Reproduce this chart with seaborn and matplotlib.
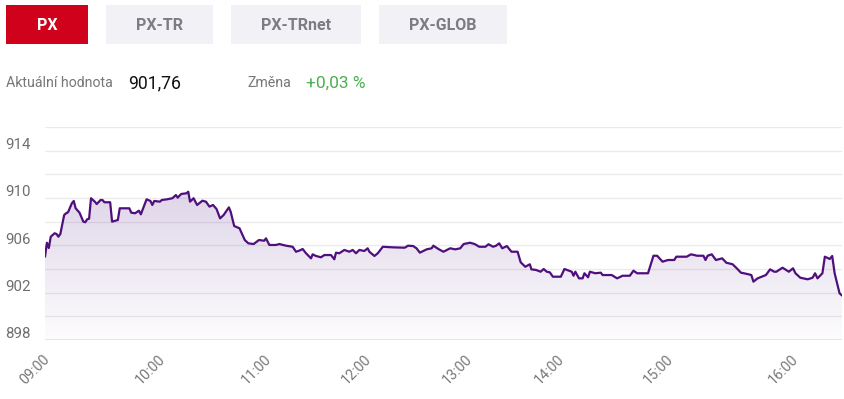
import numpy as np
import pandas as pd
import matplotlib
matplotlib.use("Agg")
import matplotlib.pyplot as plt
import seaborn as sns
from matplotlib.patches import Rectangle
from matplotlib.transforms import ScaledTranslation
from matplotlib.colors import to_rgb

# ---------------- data ----------------
tabs = ["PX", "PX-TR", "PX-TRnet", "PX-GLOB"]
current_label = "Aktuální hodnota"
current_value = "901,76"
change_label = "Změna"
change_value = "+0,03 %"

times = [
    "09:00", "09:01", "09:02", "09:03", "09:05", "09:06", "09:07", "09:08", "09:10", "09:11",
    "09:12", "09:14", "09:15", "09:16", "09:18", "09:20", "09:21", "09:22", "09:23", "09:24",
    "09:26", "09:27", "09:29", "09:30", "09:31", "09:34", "09:35", "09:38", "09:39", "09:44",
    "09:45", "09:47", "09:49", "09:50", "09:53", "09:55", "09:56", "09:57", "10:00", "10:01",
    "10:04", "10:07", "10:09", "10:10", "10:12", "10:15", "10:16", "10:17", "10:19", "10:21",
    "10:24", "10:26", "10:28", "10:30", "10:32", "10:34", "10:36", "10:39", "10:40", "10:42",
    "10:45", "10:48", "10:50", "10:53", "10:56", "10:59", "11:00", "11:02", "11:06", "11:08",
    "11:12", "11:16", "11:18", "11:20", "11:22", "11:24", "11:27", "11:28", "11:30", "11:33",
    "11:35", "11:39", "11:41", "11:42", "11:44", "11:47", "11:50", "11:52", "11:54", "11:56",
    "11:59", "12:01", "12:02", "12:05", "12:07", "12:10", "12:16", "12:23", "12:25", "12:28",
    "12:30", "12:32", "12:36", "12:39", "12:40", "12:43", "12:46", "12:50", "12:53", "12:56",
    "12:58", "13:02", "13:05", "13:08", "13:12", "13:14", "13:17", "13:19", "13:21", "13:23",
    "13:26", "13:29", "13:33", "13:35", "13:38", "13:41", "13:42", "13:45", "13:48", "13:50",
    "13:52", "13:54", "13:56", "14:01", "14:03", "14:07", "14:08", "14:09", "14:11", "14:13",
    "14:14", "14:16", "14:17", "14:20", "14:23", "14:24", "14:29", "14:32", "14:35", "14:39",
    "14:41", "14:43", "14:49", "14:52", "14:54", "14:57", "15:00", "15:03", "15:04", "15:09",
    "15:11", "15:14", "15:17", "15:18", "15:19", "15:21", "15:23", "15:26", "15:28", "15:31",
    "15:33", "15:35", "15:38", "15:40", "15:41", "15:43", "15:47", "15:49", "15:51", "15:52",
    "15:55", "15:58", "16:00", "16:01", "16:03", "16:06", "16:08", "16:09", "16:10", "16:12",
    "16:13", "16:15", "16:16", "16:17", "16:19", "16:20",
]
values = [
    905.04, 906.22, 905.77, 906.73, 907.02, 906.96, 906.73, 906.96, 908.56, 908.71,
    908.79, 909.55, 909.75, 909.13, 908.76, 908.00, 907.95, 908.20, 908.25, 909.98,
    909.69, 909.49, 909.83, 909.83, 909.64, 909.64, 908.00, 908.14, 909.13, 909.13,
    908.76, 908.71, 908.93, 908.62, 909.89, 909.75, 909.41, 909.75, 909.69, 909.83,
    909.89, 909.98, 910.25, 910.03, 910.34, 910.40, 910.53, 909.69, 909.98, 909.41,
    909.77, 909.69, 909.27, 909.41, 909.07, 908.28, 908.56, 909.21, 908.84, 907.63,
    907.44, 906.45, 906.17, 906.11, 906.45, 906.39, 906.59, 906.03, 906.03, 906.11,
    905.97, 905.88, 905.46, 905.55, 905.69, 905.33, 904.90, 905.24, 905.10, 904.99,
    905.18, 905.18, 904.82, 905.38, 905.33, 905.61, 905.46, 905.61, 905.33, 905.61,
    905.52, 905.75, 905.46, 905.10, 905.33, 905.88, 905.83, 905.80, 905.97, 905.94,
    905.75, 905.38, 905.66, 905.75, 905.97, 905.69, 905.46, 905.75, 905.66, 905.75,
    906.11, 906.22, 906.11, 905.88, 905.88, 906.09, 905.88, 905.97, 906.17, 905.75,
    905.94, 905.46, 905.46, 904.57, 904.19, 904.40, 903.97, 903.92, 903.77, 904.00,
    903.77, 903.72, 903.35, 903.35, 904.00, 903.77, 903.43, 903.77, 903.21, 903.21,
    903.64, 903.30, 903.77, 903.64, 903.69, 903.49, 903.49, 903.21, 903.43, 903.43,
    903.86, 903.64, 903.64, 905.12, 905.12, 904.62, 904.76, 904.76, 905.04, 905.04,
    905.24, 905.12, 905.12, 904.76, 905.12, 905.24, 904.76, 904.90, 904.53, 904.40,
    904.06, 903.69, 903.58, 903.49, 902.93, 903.21, 903.49, 903.97, 903.77, 903.77,
    904.11, 903.77, 904.06, 903.64, 903.26, 903.13, 903.26, 903.64, 903.21, 903.64,
    905.04, 904.85, 905.10, 903.64, 901.95, 901.76,
]
hour_labels = ["09:00", "10:00", "11:00", "12:00", "13:00", "14:00", "15:00", "16:00"]
y_ticks = [898, 902, 906, 910, 914]

# ---------------- helpers ----------------
def to_min(t):
    h, m = t.split(":")
    return (int(h) - 9) * 60 + int(m)

df = pd.DataFrame({"t": [to_min(t) for t in times], "v": values})

# ordinal-like axis (Highcharts stock style): hour knots -> axis positions
knot_min = np.array([0, 60, 120, 180, 240, 300, 360, 420, 440], dtype=float)
knot_pos = np.array([0, 115, 221, 321, 422, 514, 623, 748, 797], dtype=float)
fwd = lambda x: np.interp(np.asarray(x, dtype=float), knot_min, knot_pos)
inv = lambda y: np.interp(np.asarray(y, dtype=float), knot_pos, knot_min)

sns.set_style("white")
plt.rcParams["font.family"] = ["Roboto", "DejaVu Sans"]

W, H = 844, 399
fig = plt.figure(figsize=(W / 100, H / 100), dpi=100)
fig.patch.set_facecolor("white")

def fx(x):
    return x / W

def fy(y):
    return 1 - y / H

ax = fig.add_axes([fx(45), fy(340), 797 / W, 213 / H])
ax.set_xscale("function", functions=(fwd, inv))
ax.set_xlim(0, 440)
ax.set_ylim(898, 916)

line_color = "#4f0f7c"
sns.lineplot(data=df, x="t", y="v", ax=ax, color=line_color, linewidth=1.6,
             zorder=4, estimator=None, sort=False)

# gradient area under the line
poly = ax.fill_between(df["t"], df["v"], 898, color="none", lw=0)
base = np.array(to_rgb("#5a2a8c"))
n = 256
grad = np.zeros((n, 1, 4))
yy = np.linspace(1, 0, n)
grad[:, 0, :3] = base
grad[:, 0, 3] = 0.015 + 0.26 * yy
im = ax.imshow(grad, extent=[0, 1, 0, 1], transform=ax.transAxes, aspect="auto",
               zorder=2, interpolation="bilinear")
im.set_clip_path(poly.get_paths()[0], transform=ax.transData)

# grid
for g in range(898, 917, 2):
    ax.axhline(g, color="#ebebeb", lw=1.0, zorder=1)
ax.axhline(898, color="#e6e6e6", lw=2.0, zorder=1)

for s in ax.spines.values():
    s.set_visible(False)

ax.set_yticks(y_ticks)
ax.set_yticklabels([str(v) for v in y_ticks])
ax.tick_params(axis="y", length=0, pad=10.5, labelsize=10.8, labelcolor="#6f6f6f")
for lab in ax.get_yticklabels():
    lab.set_transform(lab.get_transform() + ScaledTranslation(0, 7 / 100, fig.dpi_scale_trans))

ax.set_xticks([to_min(t) for t in hour_labels])
ax.set_xticklabels(hour_labels, rotation=45, ha="right", va="top", rotation_mode="anchor")
ax.tick_params(axis="x", length=0, pad=9, labelsize=10.3, labelcolor="#777777")
for lab in ax.get_xticklabels():
    lab.set_transform(lab.get_transform() + ScaledTranslation(-2 / 100, 0, fig.dpi_scale_trans))
ax.set_xlabel("")
ax.set_ylabel("")
ax.minorticks_off()

# header tabs
tab_boxes = [(6, 88), (106, 213), (231, 361), (379, 507)]
for i, (name, (x0, x1)) in enumerate(zip(tabs, tab_boxes)):
    active = i == 0
    fig.add_artist(Rectangle((fx(x0), fy(44)), (x1 - x0) / W, 39 / H,
                             transform=fig.transFigure,
                             facecolor="#d0021b" if active else "#f2f2f6",
                             edgecolor="none"))
    fig.text(fx((x0 + x1) / 2), fy(25), name, ha="center", va="center",
             fontsize=11.5, fontweight="bold",
             color="white" if active else "#7c7c84")

fig.text(fx(6), fy(83), current_label, ha="left", va="center", fontsize=10.2, color="#777777")
fig.text(fx(128), fy(83), current_value, ha="left", va="center", fontsize=12.7, color="#111111")
fig.text(fx(247), fy(83), change_label, ha="left", va="center", fontsize=10.2, color="#777777")
fig.text(fx(306), fy(83), change_value, ha="left", va="center", fontsize=12.5, color="#4cb050")

fig.savefig("out.png", dpi=100, facecolor="white")
